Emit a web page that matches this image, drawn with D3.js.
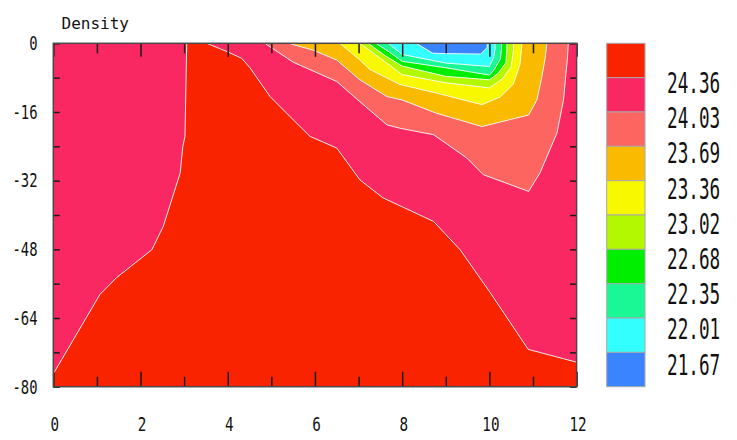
<!DOCTYPE html>
<html>
<head>
<meta charset="utf-8">
<script src="https://cdn.jsdelivr.net/npm/d3@7/dist/d3.min.js"></script>
<style>
  html, body { margin: 0; padding: 0; background: #ffffff; }
  svg { display: block; }
</style>
</head>
<body>
<svg id="chart" width="737" height="440"></svg>
<script>
// Density section: isolines as [distance, depth] pairs, one array per contour level
const levels = [24.36, 24.03, 23.69, 23.36, 23.02, 22.68, 22.35, 22.01, 21.67];
const bandColors = ["#f92300", "#fa2862", "#fc6560", "#f9ba00", "#f8f800",
                    "#b4f800", "#00ee00", "#1af896", "#33ffff", "#3a84ff"];

const iso2436Left = [[3.06, 0], [3.02, -21.7], [2.97, -24], [2.91, -30.2], [2.52, -42.7],
                     [2.26, -48.1], [1.45, -54.6], [1.07, -58.5], [0, -77]];
const iso2436Right = [[3.52, 0], [4.0, -2], [4.32, -3.5], [4.51, -5.7], [4.97, -12.4],
                      [5.43, -17.1], [5.89, -21.7], [6.5, -24.4], [7.03, -31.8], [7.56, -36],
                      [8.72, -41.5], [9.33, -48.1], [10.02, -58.1], [10.89, -71.3], [12, -74.3]];
const iso2403 = [[4.85, 0], [5.5, -4.4], [5.9, -6.2], [6.5, -8.9], [7.03, -13.6], [7.65, -19],
                 [7.95, -19.8], [8.72, -21.3], [9.48, -26.7], [9.86, -30.6], [10.9, -34.5],
                 [11.16, -30.2], [11.55, -20.9], [11.7, -13.2], [11.79, -3.4], [11.81, 0]];
const iso2369 = [[5.4, 0], [5.96, -1.6], [6.5, -3.9], [7.03, -8.5], [7.65, -12.4], [8.0, -13.2],
                 [8.79, -16.3], [9.83, -19.4], [10.9, -16.7], [11.09, -13.2], [11.2, -8],
                 [11.28, -3.4], [11.32, 0]];
const iso2336 = [[6.57, 0], [7.03, -3.9], [7.26, -6.1], [7.95, -9.6], [8.79, -11.6], [9.83, -14.3],
                 [10.25, -12.5], [10.55, -9.5], [10.7, -5], [10.75, 0]];
const iso2302 = [[7.03, 0], [7.5, -3.5], [8, -7.3], [9, -9.2], [10, -10.4], [10.3, -8.3],
                 [10.5, -5.5], [10.55, -1.8], [10.55, 0]];
const iso2268 = [[7.22, 0], [7.6, -2.8], [8, -5.3], [9, -7.7], [10, -8.5], [10.2, -7],
                 [10.38, -4.5], [10.4, -1.2], [10.4, 0]];
const iso2235 = [[7.4, 0], [7.7, -2], [8, -4.2], [9, -5.7], [10, -7.4], [10.1, -6.3],
                 [10.25, -3.7], [10.28, -1.2], [10.28, 0]];
const iso2201 = [[7.68, 0], [8, -2.6], [9, -4.6], [10, -5.4], [10.1, -3.3], [10.13, -1.2], [10.13, 0]];
const iso2167 = [[8.32, 0], [8.7, -2.3], [9, -2.4], [9.8, -2.5], [9.95, -1], [9.95, 0]];

const xTickValues = d3.range(0, 13);
const xTickLabels = [0, 2, 4, 6, 8, 10, 12];
const yTickValues = d3.range(0, -81, -8);
const yTickLabels = [0, -16, -32, -48, -64, -80];
const titleText = "Density";

// ---- layout ----
const svg = d3.select("#chart");
const plotLeft = 53.3, plotRight = 576.6, plotTop = 43.3, plotBottom = 386.7;
const x = d3.scaleLinear().domain([0, 12]).range([plotLeft, plotRight]);
const y = d3.scaleLinear().domain([0, -80]).range([plotTop, plotBottom]);
const line = d3.line().x(d => x(d[0])).y(d => y(d[1]));

const plot = svg.append("g");

// base band (24.03 - 24.36)
plot.append("rect")
  .attr("x", x(0)).attr("y", y(0))
  .attr("width", x(12) - x(0)).attr("height", y(-80) - y(0))
  .attr("fill", bandColors[1]);

// densest water (> 24.36): left isoline down, along the bottom, right isoline back up
const redRing = iso2436Left.concat([[0, -80], [12, -80]], iso2436Right.slice().reverse());
plot.append("path").attr("d", line(redRing) + "Z").attr("fill", bandColors[0]);

// lighter surface water: nested regions, each closed along the surface
const nested = [iso2403, iso2369, iso2336, iso2302, iso2268, iso2235, iso2201, iso2167];
nested.forEach((pts, i) => {
  plot.append("path").attr("d", line(pts) + "Z").attr("fill", bandColors[i + 2]);
});

// white isolines
[iso2436Left, iso2436Right].concat(nested).forEach(pts => {
  plot.append("path").attr("d", line(pts))
    .attr("fill", "none").attr("stroke", "#ffffff")
    .attr("stroke-width", 1).attr("stroke-opacity", 0.9);
});

// ---- axes ----
const tickColor = "#1a1a1a";
const gBottom = svg.append("g").attr("transform", `translate(0,${plotBottom})`)
  .call(d3.axisBottom(x).tickValues(xTickValues).tickSize(-14).tickFormat(""));
gBottom.selectAll(".tick line").attr("y2", d => d % 2 ? -10 : -15);
const gTop = svg.append("g").attr("transform", `translate(0,${plotTop})`)
  .call(d3.axisTop(x).tickValues(xTickValues).tickSize(-14).tickFormat(""));
gTop.selectAll(".tick line").attr("y2", d => d % 2 ? 10 : 13.5);
const gLeft = svg.append("g").attr("transform", `translate(${plotLeft},0)`)
  .call(d3.axisLeft(y).tickValues(yTickValues).tickSize(-6.5).tickFormat(""));
const gRight = svg.append("g").attr("transform", `translate(${plotRight},0)`)
  .call(d3.axisRight(y).tickValues(yTickValues).tickSize(-6.5).tickFormat(""));
[gBottom, gTop, gLeft, gRight].forEach(g => {
  g.select(".domain").remove();
  g.selectAll(".tick line").attr("stroke", tickColor).attr("stroke-width", 1.5);
});

// frame
svg.append("rect")
  .attr("x", plotLeft).attr("y", plotTop)
  .attr("width", plotRight - plotLeft).attr("height", plotBottom - plotTop)
  .attr("fill", "none").attr("stroke", "#4a4a4a").attr("stroke-width", 1.5);

// tall, narrow monospace glyphs: draw at full size and squeeze horizontally
const monoFont = "DejaVu Sans Mono, Liberation Mono, monospace";
function narrowText(g, data, px, py, size, squeeze, anchor) {
  return g.selectAll("text").data(data).join("text")
    .attr("transform", d => `translate(${px(d)},${py(d)}) scale(${squeeze},1)`)
    .attr("text-anchor", anchor)
    .attr("font-family", monoFont).attr("font-size", size)
    .attr("fill", "#111").text(d => d);
}

// tick labels
narrowText(svg.append("g"), yTickLabels, () => 37.5, d => y(d) + 6.8, 19, 0.73, "end");
narrowText(svg.append("g"), xTickLabels, d => x(d) + 1.5, () => 430.5, 19, 0.75, "middle");

// title
svg.append("text")
  .attr("x", 61.5).attr("y", 28.5)
  .attr("font-family", monoFont).attr("font-size", 16)
  .attr("fill", "#111").text(titleText);

// ---- colour key ----
const keyX = 606.7, keyW = 38.3;
const keyY = d3.scaleLinear().domain([0, bandColors.length]).range([plotTop, plotBottom]);
svg.append("g").selectAll("rect").data(bandColors).join("rect")
  .attr("x", keyX).attr("y", (d, i) => keyY(i))
  .attr("width", keyW).attr("height", (d, i) => keyY(i + 1) - keyY(i))
  .attr("fill", d => d).attr("stroke", "#a8a8a8").attr("stroke-width", 1);

const labelY = d3.scaleLinear().domain([0, levels.length - 1]).range([82.5, 364]);
narrowText(svg.append("g"), levels, () => 667, d => labelY(levels.indexOf(d)) + 10.5, 29, 0.61, "start")
  .text(d => d.toFixed(2));
</script>
</body>
</html>
